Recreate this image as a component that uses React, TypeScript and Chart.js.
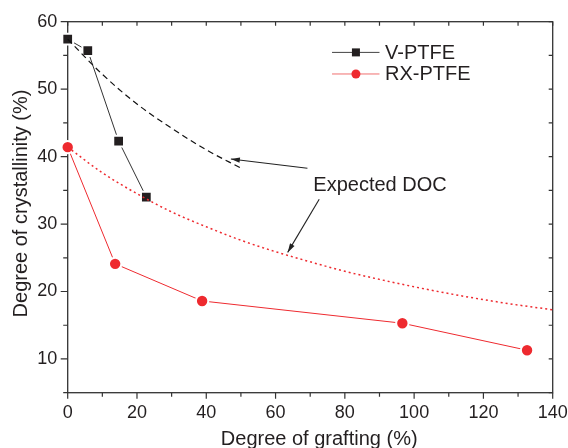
import React, { useEffect, useRef } from "react";
import { Chart, registerables } from "chart.js";

Chart.register(...registerables);

// ---- data ----
const vGrafting = [0, 5.8, 14.7, 22.7];
const vCrystallinity = [57.4, 55.7, 42.3, 34.0];

const rxGrafting = [0, 13.7, 38.8, 96.6, 132.6];
const rxCrystallinity = [41.4, 24.1, 18.6, 15.3, 11.3];

const vExpectedGrafting = [0, 10, 20, 30, 40, 50];
const vExpectedDOC = [57.4, 52.2, 47.8, 44.2, 41.0, 38.3];

const rxExpectedGrafting = [0, 10, 20, 30, 40, 50, 60, 70, 80, 90, 100, 110, 120, 130, 140];
const rxExpectedDOC = [41.4, 37.6, 34.5, 31.8, 29.6, 27.6, 25.9, 24.4, 23.0, 21.8, 20.7, 19.7, 18.8, 18.0, 17.3];

const xTicks = [0, 20, 40, 60, 80, 100, 120, 140];
const xMinorTicks = [10, 30, 50, 70, 90, 110, 130];
const yTicks = [10, 20, 30, 40, 50, 60];
const yMinorTicks = [5, 15, 25, 35, 45, 55];

const seriesNames = ["V-PTFE", "RX-PTFE"];
const annotationText = "Expected DOC";
const xTitle = "Degree of grafting (%)";
const yTitle = "Degree of crystallinity (%)";

const FONT = 'Arial, "Liberation Sans", sans-serif';
const INK = "#231f20";
const BLACK = "#231f20";
const RED = "#ee2a2f";

const pts = (xs: number[], ys: number[]) => xs.map((x, i) => ({ x, y: ys[i] }));

export default function App() {
  const ref = useRef<HTMLCanvasElement | null>(null);

  useEffect(() => {
    const canvas = ref.current;
    if (!canvas) return;

    const framePlugin = {
      id: "frame",
      beforeDatasetsDraw(chart: any) {
        const { ctx, chartArea: a, scales } = chart;
        const xs = scales.x;
        const ys = scales.y;
        ctx.save();
        ctx.strokeStyle = "#333333";
        ctx.lineWidth = 1.3;
        ctx.strokeRect(a.left, a.top, a.right - a.left, a.bottom - a.top);
        ctx.lineWidth = 1.2;
        ctx.beginPath();
        const tick = (x1: number, y1: number, x2: number, y2: number) => {
          ctx.moveTo(x1, y1);
          ctx.lineTo(x2, y2);
        };
        xTicks.forEach((v) => {
          const px = xs.getPixelForValue(v);
          tick(px, a.bottom, px, a.bottom + 6);
          tick(px, a.top, px, a.top + 4);
        });
        xMinorTicks.forEach((v) => {
          const px = xs.getPixelForValue(v);
          tick(px, a.bottom, px, a.bottom + 4);
          tick(px, a.top, px, a.top + 4);
        });
        yTicks.forEach((v) => {
          const py = ys.getPixelForValue(v);
          tick(a.left, py, a.left - 7, py);
          tick(a.right, py, a.right - 4, py);
        });
        yMinorTicks.forEach((v) => {
          const py = ys.getPixelForValue(v);
          tick(a.left, py, a.left - 4.5, py);
          tick(a.right, py, a.right - 4, py);
        });
        ctx.stroke();

        // axis titles
        ctx.fillStyle = INK;
        ctx.font = `20px ${FONT}`;
        ctx.textAlign = "center";
        ctx.textBaseline = "alphabetic";
        ctx.fillText(xTitle, (a.left + a.right) / 2 + 9, 445);
        ctx.translate(27, 203.5);
        ctx.rotate(-Math.PI / 2);
        ctx.fillText(yTitle, 0, 0);
        ctx.restore();
      },
      afterDatasetsDraw(chart: any) {
        const { ctx, scales } = chart;
        const xs = scales.x;
        const ys = scales.y;
        const X = (v: number) => xs.getPixelForValue(v);
        const Y = (v: number) => ys.getPixelForValue(v);
        ctx.save();

        // legend
        const rows = [
          { name: seriesNames[0], color: BLACK, line: "#444444", y: 55.45, shape: "rect" },
          { name: seriesNames[1], color: RED, line: "#f07070", y: 52.25, shape: "circle" },
        ];
        rows.forEach((r) => {
          const py = Y(r.y);
          ctx.strokeStyle = r.line;
          ctx.lineWidth = 1;
          ctx.beginPath();
          ctx.moveTo(X(76.3), py);
          ctx.lineTo(X(90), py);
          ctx.stroke();
          ctx.fillStyle = r.color;
          const mx = X(83.2);
          if (r.shape === "rect") {
            ctx.fillRect(mx - 4, py - 4, 8, 8);
          } else {
            ctx.beginPath();
            ctx.arc(mx, py, 4.5, 0, Math.PI * 2);
            ctx.fill();
          }
          ctx.fillStyle = INK;
          ctx.font = `20px ${FONT}`;
          ctx.textAlign = "left";
          ctx.textBaseline = "middle";
          ctx.fillText(r.name, X(91.6), py + 1);
        });

        // annotation text
        ctx.fillStyle = INK;
        ctx.font = `20px ${FONT}`;
        ctx.textAlign = "left";
        ctx.textBaseline = "middle";
        ctx.fillText(annotationText, X(70.9), Y(35.9) + 1);

        // arrows
        const arrow = (x1: number, y1: number, x2: number, y2: number) => {
          const sx = X(x1), sy = Y(y1), ex = X(x2), ey = Y(y2);
          ctx.strokeStyle = "#222222";
          ctx.fillStyle = "#222222";
          ctx.lineWidth = 1.1;
          ctx.beginPath();
          ctx.moveTo(sx, sy);
          ctx.lineTo(ex, ey);
          ctx.stroke();
          const ang = Math.atan2(ey - sy, ex - sx);
          const L = 9, W = 2.6;
          ctx.beginPath();
          ctx.moveTo(ex, ey);
          ctx.lineTo(ex - L * Math.cos(ang) + W * Math.sin(ang), ey - L * Math.sin(ang) - W * Math.cos(ang));
          ctx.lineTo(ex - L * Math.cos(ang) - W * Math.sin(ang), ey - L * Math.sin(ang) + W * Math.cos(ang));
          ctx.closePath();
          ctx.fill();
        };
        arrow(69.2, 38.27, 47.1, 39.65);
        arrow(72.6, 33.67, 63.5, 25.8);
        ctx.restore();
      },
    };

    const chart = new Chart(canvas, {
      type: "line",
      data: {
        datasets: [
          {
            label: "V expected",
            data: pts(vExpectedGrafting, vExpectedDOC),
            borderColor: "#111111",
            borderWidth: 1.2,
            borderDash: [6, 4],
            pointRadius: 0,
            cubicInterpolationMode: "monotone",
            fill: false,
            clip: false,
          },
          {
            label: "RX expected",
            data: pts(rxExpectedGrafting, rxExpectedDOC),
            borderColor: RED,
            borderWidth: 1.5,
            borderDash: [2, 3],
            pointRadius: 0,
            cubicInterpolationMode: "monotone",
            fill: false,
            clip: false,
          },
          {
            label: seriesNames[0],
            data: pts(vGrafting, vCrystallinity),
            borderColor: "#333333",
            borderWidth: 1,
            pointStyle: "rect",
            pointRadius: 7.6,
            pointBackgroundColor: BLACK,
            pointBorderColor: "#ffffff",
            pointBorderWidth: 2,
            tension: 0,
            fill: false,
            clip: false,
          },
          {
            label: seriesNames[1],
            data: pts(rxGrafting, rxCrystallinity),
            borderColor: RED,
            borderWidth: 1,
            pointStyle: "circle",
            pointRadius: 6.2,
            pointBackgroundColor: RED,
            pointBorderColor: "#ffffff",
            pointBorderWidth: 2,
            tension: 0,
            fill: false,
            clip: false,
          },
        ],
      },
      options: {
        animation: false,
        responsive: false,
        maintainAspectRatio: false,
        events: [],
        layout: { padding: { top: 21.7, right: 15.3, left: 0, bottom: 0 } },
        plugins: { legend: { display: false }, tooltip: { enabled: false } },
        scales: {
          x: {
            type: "linear",
            min: 0,
            max: 140,
            grid: { display: false, drawTicks: false },
            border: { display: false },
            afterBuildTicks: (s: any) => {
              s.ticks = xTicks.map((v) => ({ value: v }));
            },
            afterFit: (s: any) => {
              s.height = 55.3;
              s.paddingLeft = 0;
              s.paddingRight = 0;
            },
            ticks: {
              padding: 10,
              color: INK,
              font: { family: FONT, size: 18 },
              maxRotation: 0,
              autoSkip: false,
            },
          },
          y: {
            type: "linear",
            min: 5,
            max: 60,
            grid: { display: false, drawTicks: false },
            border: { display: false },
            afterBuildTicks: (s: any) => {
              s.ticks = yTicks.map((v) => ({ value: v }));
            },
            afterFit: (s: any) => {
              s.width = 67.7;
              s.paddingTop = 0;
              s.paddingBottom = 0;
            },
            ticks: {
              padding: 10.5,
              color: INK,
              font: { family: FONT, size: 18 },
              autoSkip: false,
            },
          },
        },
      },
      plugins: [framePlugin],
    } as any);

    return () => chart.destroy();
  }, []);

  return (
    <div style={{ position: "fixed", left: 0, top: 0, width: 568, height: 448, background: "#ffffff" }}>
      <canvas ref={ref} width={568} height={448} style={{ display: "block" }} />
    </div>
  );
}
